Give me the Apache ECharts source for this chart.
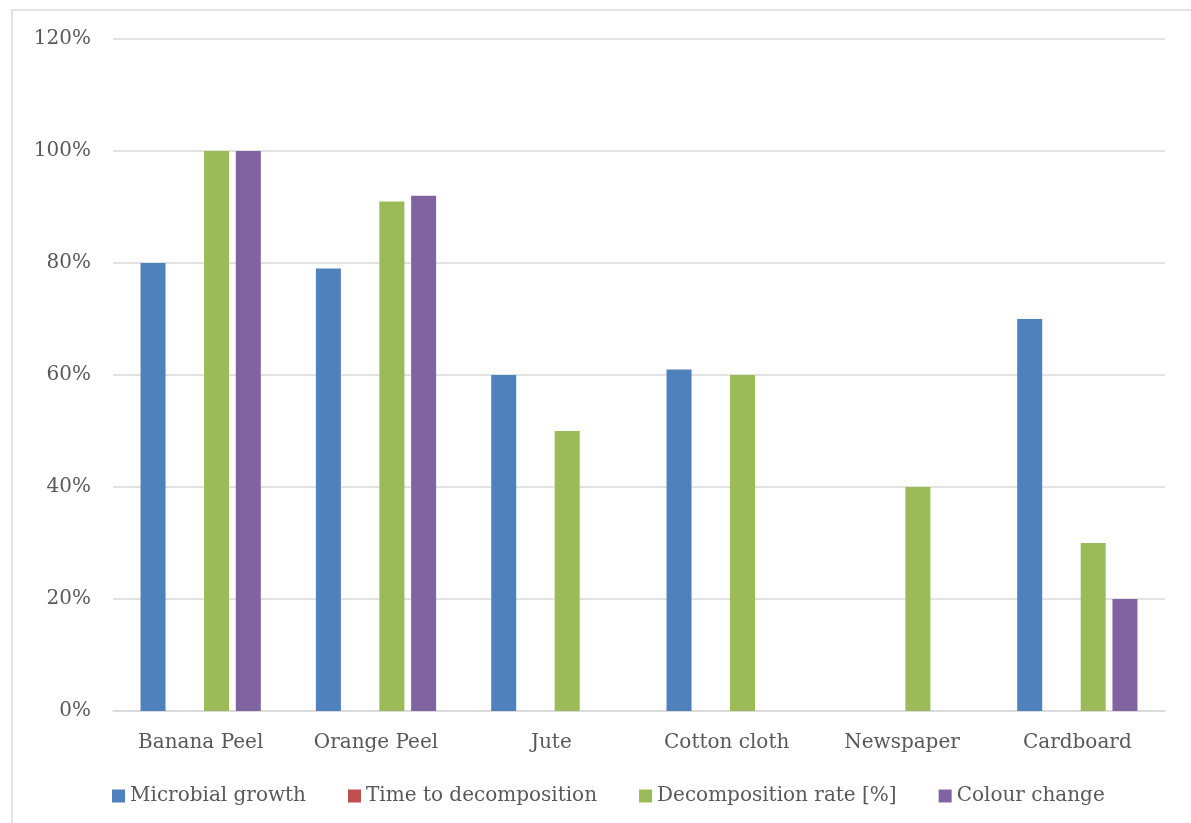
<!DOCTYPE html>
<html><head><meta charset="utf-8">
<script src="https://cdn.jsdelivr.net/npm/echarts@6/dist/echarts.min.js"></script>
<style>html,body{margin:0;padding:0;background:#fff}#c{width:1191px;height:823px}</style>
</head><body><div id="c"></div>
<script>
const categories = ['Banana Peel','Orange Peel','Jute','Cotton cloth','Newspaper','Cardboard'];
const microbialGrowth = [80,79,60,61,0,70];
const timeToDecomposition = [0,0,0,0,0,0];
const decompositionRate = [100,91,50,60,40,30];
const colourChange = [100,92,0,0,0,20];
const yTicks = [0,20,40,60,80,100,120];

const FONT = 'DejaVu Serif';
const chart = echarts.init(document.getElementById('c'));
function s(name, data, color){
  return {name, type:'bar', data, barWidth:25, barGap:'27%',
    itemStyle:{color}, emphasis:{disabled:true}};
}
chart.setOption({
  animation:false,
  textStyle:{fontFamily:FONT,color:'#595959'},
  graphic:[{type:'rect',shape:{x:12,y:10,width:1200,height:900},style:{fill:'none',stroke:'#d9d9d9',lineWidth:1.5},silent:true}],
  grid:{left:113,right:26,top:39,bottom:112},
  legend:{bottom:12,left:107,itemWidth:13,itemHeight:13,itemGap:42,
    icon:'rect',textStyle:{fontFamily:FONT,fontSize:20,color:'#595959'}},
  xAxis:{type:'category',data:categories,
    axisLine:{lineStyle:{color:'#d9d9d9',width:1.5}},axisTick:{show:false},
    axisLabel:{fontFamily:FONT,fontSize:20,color:'#595959',margin:22}},
  yAxis:{type:'value',min:0,max:120,interval:20,
    axisLine:{show:false},axisTick:{show:false},
    splitLine:{lineStyle:{color:'#d9d9d9',width:1.5}},
    axisLabel:{fontFamily:FONT,fontSize:20,color:'#595959',margin:22,formatter:v=>v+'%'}},
  series:[
    s('Microbial growth',microbialGrowth,'#4f81bd'),
    s('Time to decomposition',timeToDecomposition,'#c0504d'),
    s('Decomposition rate [%]',decompositionRate,'#9bbb59'),
    s('Colour change',colourChange,'#8064a2')
  ]
});
</script></body></html>
